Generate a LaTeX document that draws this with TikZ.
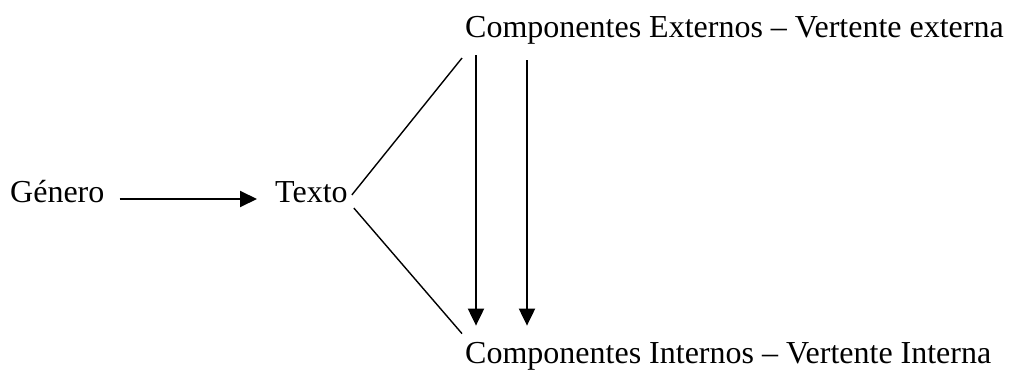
\documentclass[tikz,border=0pt]{standalone}
\usepackage{fontspec}
\setmainfont{Liberation Serif}
\usepackage{tikz}
\usetikzlibrary{arrows.meta, positioning}

\begin{document}
\begin{tikzpicture}[
                x=1pt, y=-1pt,
                label/.style={inner sep=0pt, anchor=base west, font=\fontsize{32}{38}\selectfont},
                arrow/.style={-{Triangle[length=17pt, width=16pt]}, line width=2pt},
                link/.style={line width=1.4pt}
            ]
                \useasboundingbox (0,0) rectangle (1009,371);

                \node[label] (genero) at (10,203) {Género};
                \node[label] (texto) at (275,203) {Texto};
                \node[label] (externos) at (465,38) {Componentes Externos – Vertente externa};
                \node[label] (internos) at (465,363) {Componentes Internos – Vertente Interna};

                \draw[arrow] ([xshift=15pt, yshift=4pt]genero.base east) -- ([xshift=-18pt, yshift=4pt]texto.base west);
                \draw[link] ([xshift=4pt, yshift=8pt]texto.base east) -- ([xshift=-3pt, yshift=-13pt]externos.south west);
                \draw[link] ([xshift=6pt, yshift=-5pt]texto.base east) -- ([xshift=-3pt, yshift=8pt]internos.north west);
                \draw[arrow] ([xshift=11pt, yshift=-10pt]externos.south west) -- ([xshift=11pt, yshift=16pt]internos.north west);
                \draw[arrow] ([xshift=62pt, yshift=-15pt]externos.south west) -- ([xshift=62pt, yshift=16pt]internos.north west);
            \end{tikzpicture}
\end{document}
